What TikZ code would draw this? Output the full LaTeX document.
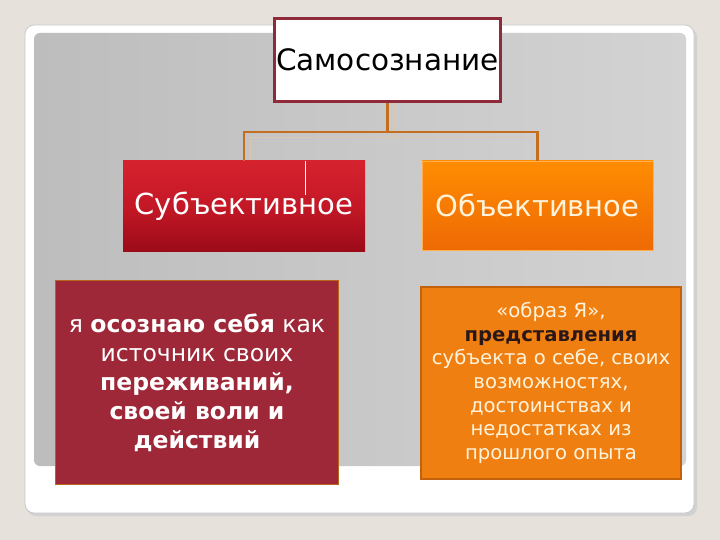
\documentclass[tikz,border=0pt]{standalone}
\usepackage{fontspec}
\setmainfont{DejaVu Sans}
\definecolor{bgc}{HTML}{E6E1DA}
\definecolor{framec}{HTML}{C9C9C9}
\definecolor{panelL}{HTML}{BDBDBD}
\definecolor{panelR}{HTML}{D3D3D3}
\definecolor{topborder}{HTML}{8E2A3A}
\definecolor{connc}{HTML}{C66E20}
\definecolor{ghostc}{HTML}{DCC6AE}
\definecolor{redtop}{HTML}{D6222F}
\definecolor{redmid}{HTML}{C41826}
\definecolor{redbot}{HTML}{9C0A18}
\definecolor{orgtop}{HTML}{FF8C02}
\definecolor{orgbot}{HTML}{EE6A04}
\definecolor{wine}{HTML}{9E2838}
\definecolor{wineborder}{HTML}{B8651A}
\definecolor{orgfill}{HTML}{F07F12}
\definecolor{orgborder}{HTML}{C2620C}
\definecolor{cream}{HTML}{FFF3DC}
\definecolor{darktext}{HTML}{2A1818}
\begin{document}
\begin{tikzpicture}[x=1pt,y=-1pt,
  conn/.style={draw=connc,line width=2.6pt},
  ghost/.style={draw=ghostc,line width=1pt},
  midbox/.style={inner sep=0pt,font=\fontsize{29}{33}\selectfont},
  lowbox/.style={inner sep=0pt,align=center}]
\useasboundingbox (0,0) rectangle (720,540);
\fill[bgc] (0,0) rectangle (720,540);
% frame with soft shadow
\fill[black!18,rounded corners=9pt] (27,28) rectangle (697,516);
\filldraw[fill=white,draw=framec,line width=0.8pt,rounded corners=9pt] (25,25) rectangle (694,513);
\shade[left color=panelL,right color=panelR,rounded corners=6pt] (34,33) rectangle (686,466);
% ghost trace of connectors
\draw[ghost] (394,103) -- (394,138);
\draw[ghost] (250,161) -- (250,138) -- (531,138) -- (531,161);
% top box
\node[draw=topborder,line width=2.6pt,fill=white,minimum width=226pt,minimum height=83pt,inner sep=0pt,
      font=\fontsize{29.5}{33}\selectfont] (top) at (387.5,60) {Самосознание};
% middle boxes
\node[midbox,minimum width=242pt,minimum height=90pt,text=white,
      top color=redtop,bottom color=redbot,middle color=redmid] (sub) at (244,206) {Субъективное};
\draw[white,line width=1pt] (305,161) -- (305,195);
\node[midbox,minimum width=231pt,minimum height=89pt,text=cream,
      draw=orgtop!70!white,line width=0.8pt,
      top color=orgtop,bottom color=orgbot] (obj) at (537.5,205.5) {Объективное};
% connectors
\coordinate (j) at (387.5,132);
\draw[conn] (top.south) -- (j);
\draw[conn] (j) -| (sub.north);
\draw[conn] (j) -| (obj.north);
% lower boxes
\node[lowbox,fill=wine,draw=wineborder,line width=1.8pt,minimum width=283pt,minimum height=204pt,
      text=white,font=\fontsize{23.5}{29}\selectfont] (lowl) at (197,382.5)
  {я \textbf{осознаю себя} как\\ источник своих\\ \textbf{переживаний,}\\ \textbf{своей воли и}\\ \textbf{действий}};
\node[lowbox,fill=orgfill,draw=orgborder,line width=2.4pt,minimum width=260pt,minimum height=192pt,
      text=cream,font=\fontsize{19.6}{23.6}\selectfont] (lowr) at (551,383)
  {«образ Я»,\\ {\color{darktext}\textbf{представления}}\\ субъекта о себе, своих\\ возможностях,\\ достоинствах и\\ недостатках из\\ прошлого опыта};
\end{tikzpicture}
\end{document}
